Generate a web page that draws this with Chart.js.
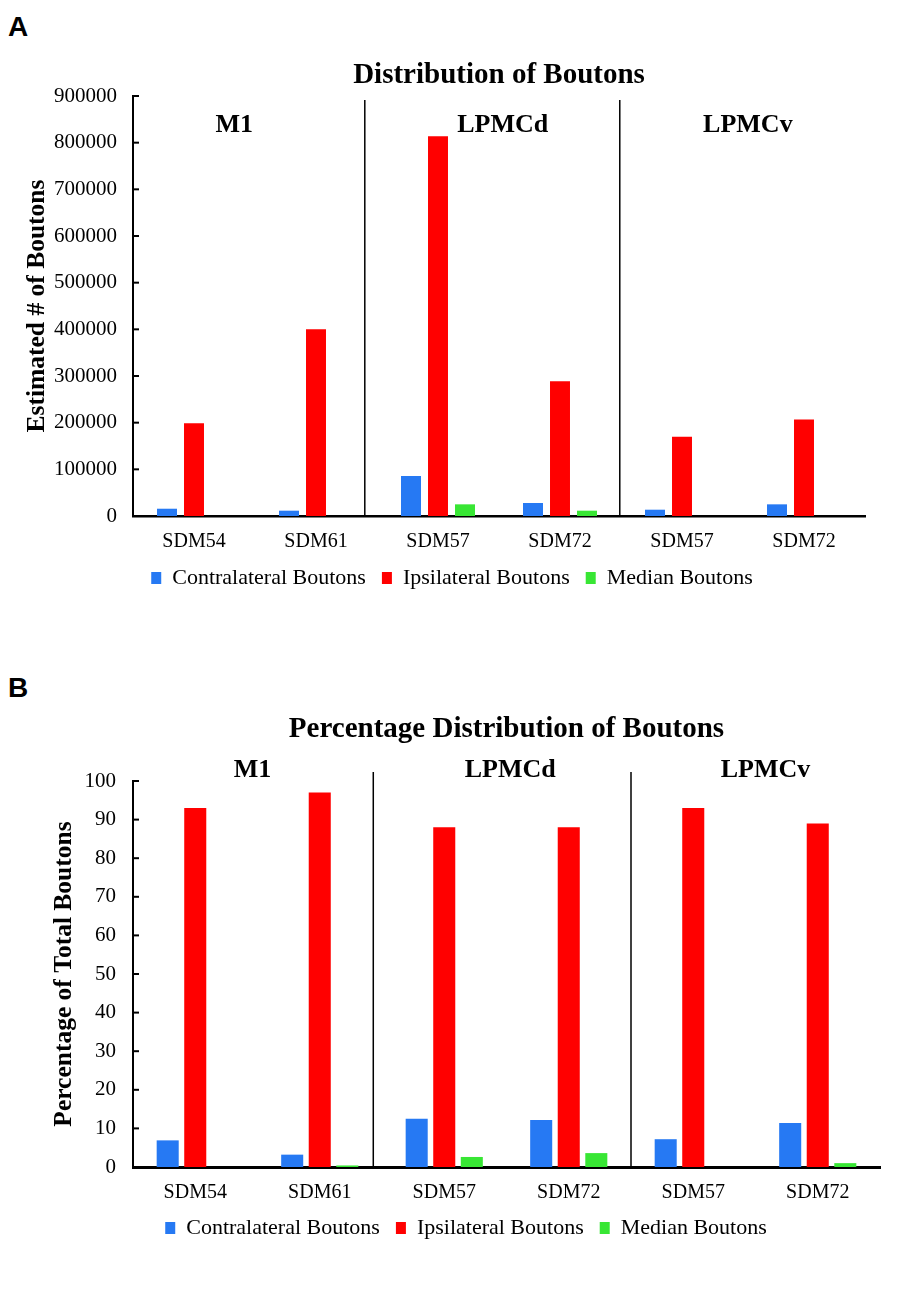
<!DOCTYPE html>
<html>
<head>
<meta charset="utf-8">
<script src="https://cdn.jsdelivr.net/npm/chart.js@4.4.1/dist/chart.umd.min.js"></script>
<style>
  body { margin: 0; background: #fff; }
  #page { position: relative; width: 906px; height: 1300px; }
  .tag { position: absolute; left: 8px; font: bold 28px "Liberation Sans", Arial, sans-serif; line-height: 28px; }
  .box { position: absolute; left: 0; width: 906px; }
</style>
</head>
<body>
<div id="page">
  <div class="tag" style="top:13px">A</div>
  <div class="box" style="top:0px"><canvas id="chartA" width="906" height="599"></canvas></div>
  <div class="tag" style="top:674px">B</div>
  <div class="box" style="top:640px"><canvas id="chartB" width="906" height="609"></canvas></div>
</div>
<script>
// data
var samples = ['SDM54', 'SDM61', 'SDM57', 'SDM72', 'SDM57', 'SDM72']
var seriesNames = ['Contralateral Boutons', 'Ipsilateral Boutons', 'Median Boutons']
var regions = ['M1', 'LPMCd', 'LPMCv']

// panel A - estimated number of boutons
var countContra = [15600, 11400, 85700, 27900, 13500, 25000]
var countIpsi = [199000, 400000, 814000, 289000, 170000, 207000]
var countMedian = [0, 0, 25000, 11400, 0, 0]

// panel B - percentage of total boutons
var pctContra = [6.9, 3.2, 12.5, 12.2, 7.2, 11.4]
var pctIpsi = [93, 97, 88, 88, 93, 89]
var pctMedian = [0, 0.4, 2.6, 3.6, 0, 1.0]

var colors = ['#2679f3', '#ff0000', '#38e634']
var serif = '"Liberation Serif", "Times New Roman", serif'

// region labels, dividers and the small inward tick marks
var regionPlugin = {
  id: 'regions',
  afterDraw: function(chart, args, opts) {
    var ctx = chart.ctx
    var x = chart.scales.x
    var y = chart.scales.y
    var area = chart.chartArea
    ctx.save()
    ctx.strokeStyle = '#000'
    ctx.lineWidth = 2
    y.ticks.forEach(function(t, i) {
      var py = y.getPixelForTick(i)
      ctx.beginPath()
      ctx.moveTo(area.left, py)
      ctx.lineTo(area.left + 6, py)
      ctx.stroke()
    })
    ctx.lineWidth = 1.5
    opts.splits.forEach(function(v) {
      var px = x.getPixelForValue(v)
      ctx.beginPath()
      ctx.moveTo(px, area.top + opts.splitTop)
      ctx.lineTo(px, area.bottom)
      ctx.stroke()
    })
    ctx.fillStyle = '#000'
    ctx.font = 'bold 26px ' + serif
    ctx.textAlign = 'center'
    ctx.textBaseline = 'middle'
    regions.forEach(function(r, i) {
      ctx.fillText(r, x.getPixelForValue(opts.labelAt[i]), area.top + opts.labelTop)
    })
    ctx.restore()
  }
}

function makeChart(id, s) {
  return new Chart(document.getElementById(id), {
    type: 'bar',
    data: {
      labels: samples,
      datasets: s.values.map(function(vals, i) {
        return {
          label: seriesNames[i],
          data: vals,
          backgroundColor: colors[i],
          borderWidth: 0,
          categoryPercentage: 0.664,
          barPercentage: s.barPct
        }
      })
    },
    plugins: [regionPlugin],
    options: {
      responsive: false,
      animation: false,
      layout: { padding: { left: s.padLeft, right: s.padRight, top: 0, bottom: 0 } },
      scales: {
        x: {
          grid: { display: false, drawTicks: false },
          border: { color: '#000', width: s.xBorder },
          ticks: { color: '#000', font: { family: serif, size: 20 }, padding: 14, maxRotation: 0 },
          // keep the legend tight under the sample labels
          afterFit: function(scale) { scale.height = s.xHeight }
        },
        y: {
          min: 0,
          max: s.max,
          grid: { display: false, drawTicks: false },
          border: { color: '#000', width: 2 },
          ticks: {
            stepSize: s.step,
            color: '#000',
            font: { family: serif, size: 21 },
            padding: s.yPad,
            callback: function(v) { return String(v) }
          },
          title: {
            display: true,
            text: s.yTitle,
            color: '#000',
            font: { family: serif, size: 25.5, weight: 'bold' },
            padding: { top: s.yTitlePad, bottom: 0 }
          },
          afterFit: function(scale) { scale.width = s.yWidth }
        },
        spacer: {
          position: 'right',
          grid: { display: false, drawTicks: false },
          border: { display: false },
          ticks: { display: false },
          afterFit: function(scale) { scale.width = s.spacer }
        }
      },
      plugins: {
        tooltip: { enabled: false },
        title: {
          display: true,
          fullSize: false,
          text: s.title,
          color: '#000',
          font: { family: serif, size: 29, weight: 'bold' },
          padding: { top: s.titleTop, bottom: s.titleBottom }
        },
        legend: {
          position: 'bottom',
          labels: {
            color: '#000',
            font: { family: serif, size: 22 },
            boxWidth: 10,
            boxHeight: 12,
            padding: 16
          }
        },
        regions: s.regions
      }
    }
  })
}

makeChart('chartA', {
  values: [countContra, countIpsi, countMedian],
  title: 'Distribution of Boutons',
  yTitle: 'Estimated # of Boutons',
  max: 900000,
  step: 100000,
  barPct: 0.74,
  padLeft: 0,
  padRight: 2,
  spacer: 39,
  yWidth: 133,
  yTitlePad: 22,
  yPad: 16,
  xBorder: 2.5,
  xHeight: 35,
  titleTop: 58.6,
  titleBottom: 2.6,
  regions: { splits: [1.4, 3.49], splitTop: 4, labelAt: [0.33, 2.53, 4.54], labelTop: 29 }
})

makeChart('chartB', {
  values: [pctContra, pctIpsi, pctMedian],
  title: 'Percentage Distribution of Boutons',
  yTitle: 'Percentage of Total Boutons',
  max: 100,
  step: 10,
  barPct: 0.8,
  padLeft: 26,
  padRight: 0,
  spacer: 26,
  yWidth: 107,
  yTitlePad: 23,
  yPad: 17,
  xBorder: 3,
  xHeight: 34,
  titleTop: 72.6,
  titleBottom: 33.6,
  regions: { splits: [1.43, 3.5], splitTop: -9, labelAt: [0.46, 2.53, 4.58], labelTop: -11 }
})
</script>
</body>
</html>
